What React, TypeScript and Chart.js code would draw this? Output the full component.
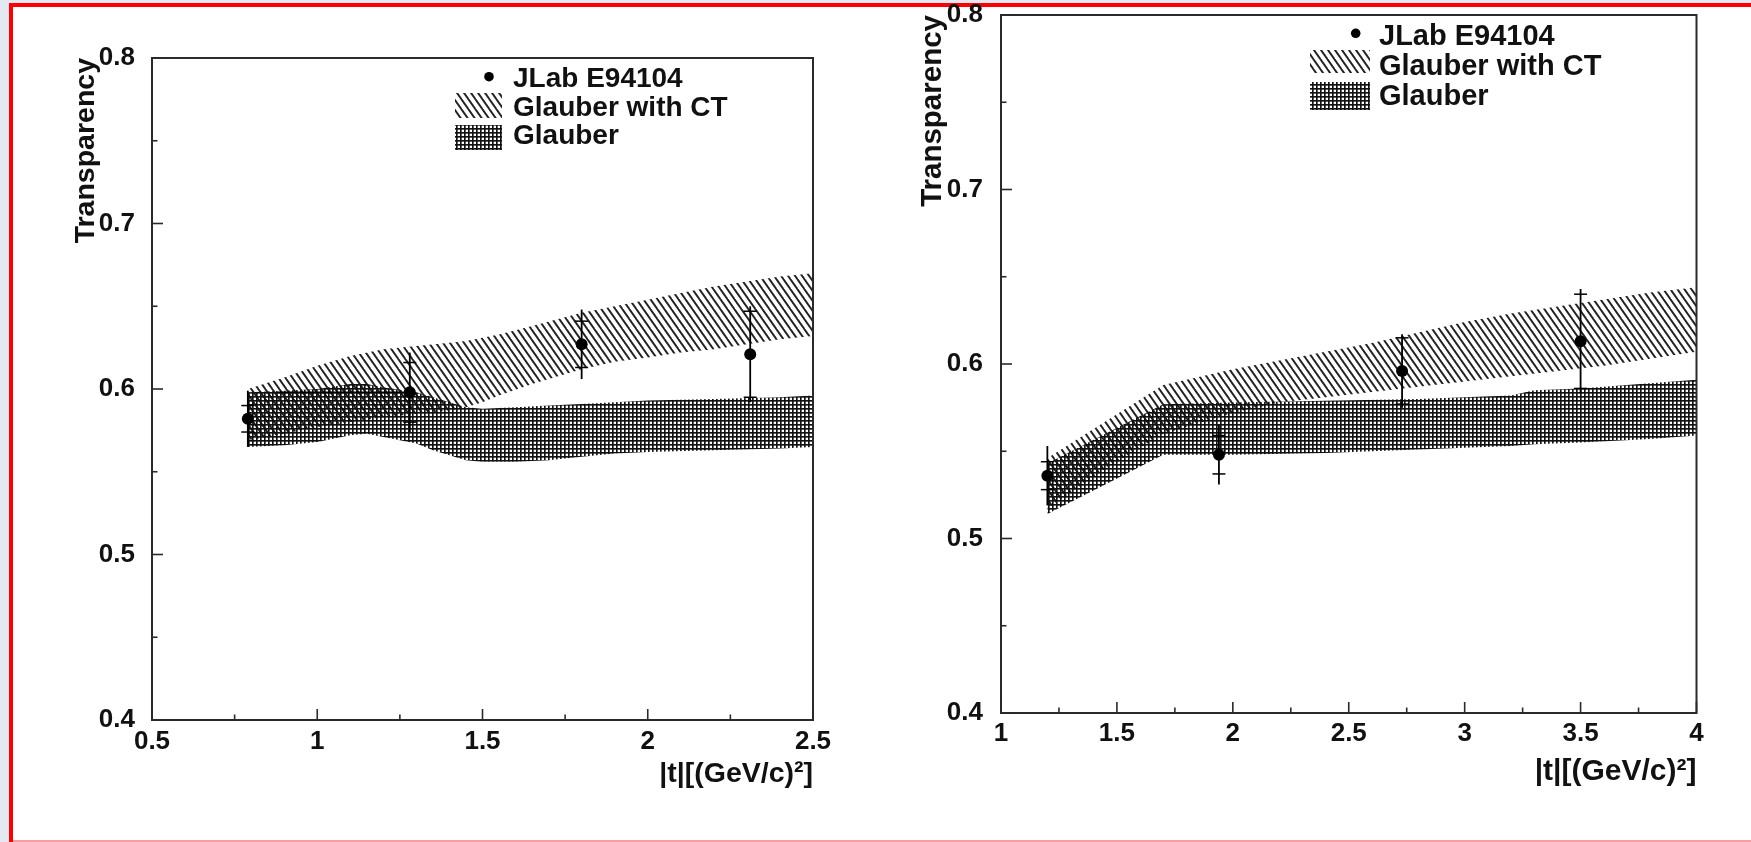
import React, { useEffect, useRef } from "react";
import { Chart, registerables } from "chart.js";

Chart.register(...registerables);

// ---------------- Text ----------------
const legendLabels = ["JLab E94104", "Glauber with CT", "Glauber"];
const yTitle = "Transparency";
const xTitle = "|t|[(GeV/c)²]";
const yTicks = [0.4, 0.5, 0.6, 0.7, 0.8];

// ---------------- Left panel ----------------
const leftXTicks = [0.5, 1, 1.5, 2, 2.5];
const leftPointsX = [0.79, 1.28, 1.8, 2.31];
const leftPointsY = [0.582, 0.598, 0.627, 0.621];
const leftErrTotal = [0.017, 0.024, 0.021, 0.029];
const leftErrStat = [0.008, 0.018, 0.014, 0.026];
const leftErrXLow = [0, 0.4, 0, 0];

const leftCtX = [0.79, 0.9, 1.0, 1.1, 1.2, 1.3, 1.4, 1.45, 1.5, 1.55, 1.65, 1.8, 1.9, 2.0, 2.1, 2.2, 2.3, 2.4, 2.5];
const leftCtLow = [0.569, 0.573, 0.577, 0.58, 0.583, 0.585, 0.587, 0.589, 0.592, 0.596, 0.603, 0.612, 0.6165, 0.619, 0.622, 0.624, 0.627, 0.63, 0.632];
const leftCtHigh = [0.6, 0.607, 0.614, 0.62, 0.624, 0.626, 0.628, 0.629, 0.631, 0.633, 0.638, 0.646, 0.65, 0.654, 0.658, 0.662, 0.665, 0.668, 0.67];

const leftGlX = [0.79, 0.9, 1.0, 1.1, 1.15, 1.2, 1.3, 1.35, 1.4, 1.45, 1.5, 1.6, 1.7, 1.8, 1.9, 2.0, 2.2, 2.4, 2.5];
const leftGlLow = [0.565, 0.566, 0.568, 0.572, 0.573, 0.571, 0.567, 0.563, 0.56, 0.557, 0.556, 0.556, 0.557, 0.559, 0.561, 0.562, 0.563, 0.564, 0.565];
const leftGlHigh = [0.598, 0.599, 0.6, 0.603, 0.603, 0.601, 0.598, 0.595, 0.592, 0.589, 0.588, 0.589, 0.59, 0.591, 0.592, 0.593, 0.594, 0.595, 0.596];

// ---------------- Right panel ----------------
const rightXTicks = [1, 1.5, 2, 2.5, 3, 3.5, 4];
const rightPointsX = [1.2, 1.94, 2.73, 3.5];
const rightPointsY = [0.536, 0.548, 0.596, 0.613];
const rightErrTotal = [0.017, 0.017, 0.021, 0.03];
const rightErrStat = [0.008, 0.011, 0.019, 0.027];
const rightErrXLow = [0, 0, 0, 0];

const rightCtX = [1.2, 1.45, 1.7, 2.0, 2.2, 2.4, 2.6, 2.8, 3.0, 3.2, 3.4, 3.6, 3.8, 4.0];
const rightCtLow = [0.517, 0.54, 0.56, 0.572, 0.578, 0.581, 0.584, 0.587, 0.59, 0.593, 0.596, 0.599, 0.603, 0.607];
const rightCtHigh = [0.546, 0.567, 0.588, 0.597, 0.602, 0.607, 0.612, 0.618, 0.624, 0.629, 0.633, 0.637, 0.641, 0.644];

const rightGlX = [1.2, 1.45, 1.7, 2.0, 2.4, 2.8, 3.0, 3.2, 3.3, 3.5, 3.8, 4.0];
const rightGlLow = [0.514, 0.531, 0.548, 0.548, 0.549, 0.551, 0.552, 0.553, 0.554, 0.555, 0.557, 0.559];
const rightGlHigh = [0.543, 0.56, 0.577, 0.578, 0.579, 0.58, 0.581, 0.582, 0.585, 0.586, 0.589, 0.591];

const FONT = "'Liberation Sans', Arial, Helvetica, sans-serif";

function makeHatch(ctx: CanvasRenderingContext2D): CanvasPattern {
  const c = document.createElement("canvas");
  c.width = 7;
  c.height = 10;
  const g = c.getContext("2d")!;
  g.strokeStyle = "#222";
  g.lineWidth = 1.9;
  for (const off of [-7, 0, 7]) {
    g.beginPath();
    g.moveTo(off - 0.7, -1);
    g.lineTo(off + 7.7, 11);
    g.stroke();
  }
  return ctx.createPattern(c, "repeat")!;
}

function makeGrid(ctx: CanvasRenderingContext2D): CanvasPattern {
  const c = document.createElement("canvas");
  c.width = 4;
  c.height = 4;
  const g = c.getContext("2d")!;
  g.fillStyle = "rgba(15,15,15,0.65)";
  g.fillRect(1, 0, 1, 4);
  g.fillRect(0, 1, 4, 1);
  g.fillStyle = "#111";
  g.fillRect(0, 0, 1, 4);
  g.fillRect(0, 0, 4, 1);
  return ctx.createPattern(c, "repeat")!;
}

type PanelSpec = {
  px: number[];
  py: number[];
  et: number[];
  es: number[];
  exl: number[];
  ctX: number[];
  ctLow: number[];
  ctHigh: number[];
  glX: number[];
  glLow: number[];
  glHigh: number[];
  xMin: number;
  xMax: number;
  xTicks: number[];
  yAxisW: number;
  xAxisH: number;
  padTop: number;
  padRight: number;
  yTitleSize: number;
  yTitlePad: number;
  xTitleSize: number;
  xTitlePad: number;
  yTickPad: number;
  xTickPad: number;
  legend: {
    size: number;
    dotX: number;
    dotY: number;
    sx: number;
    sw: number;
    ctY: number;
    ctH: number;
    glY: number;
    glH: number;
    tx: number;
    base: number[];
  };
};

function pts(xs: number[], ys: number[]) {
  return xs.map((x, i) => ({ x, y: ys[i] }));
}

function makePanel(canvas: HTMLCanvasElement, s: PanelSpec, id: string): Chart {
  const ctx = canvas.getContext("2d")!;
  const hatch = makeHatch(ctx);
  const grid = makeGrid(ctx);

  const plugin = {
    id,
    afterDatasetsDraw(chart: any) {
      const c: CanvasRenderingContext2D = chart.ctx;
      const xs = chart.scales.x;
      const ys = chart.scales.y;
      const ca = chart.chartArea;
      c.save();
      // error bars
      c.strokeStyle = "#000";
      c.lineCap = "butt";
      s.px.forEach((xv, i) => {
        const px = xs.getPixelForValue(xv);
        const y0 = ys.getPixelForValue(s.py[i]);
        const yt = ys.getPixelForValue(s.py[i] + s.et[i]);
        const yb = ys.getPixelForValue(s.py[i] - s.et[i]);
        c.lineWidth = 1.8;
        c.beginPath();
        c.moveTo(px, yt);
        c.lineTo(px, yb);
        c.stroke();
        c.lineWidth = 1.5;
        for (const sign of [1, -1]) {
          const yy = ys.getPixelForValue(s.py[i] + sign * s.es[i]);
          c.beginPath();
          c.moveTo(px - 6.5, yy);
          c.lineTo(px + 6.5, yy);
          c.stroke();
        }
        if (s.exl[i] > 0) {
          c.lineWidth = 1.8;
          c.beginPath();
          c.moveTo(xs.getPixelForValue(xv - s.exl[i]), y0);
          c.lineTo(px, y0);
          c.stroke();
        }
      });
      // frame
      c.strokeStyle = "#2a2a2a";
      c.lineWidth = 2;
      c.strokeRect(ca.left, ca.top, ca.right - ca.left, ca.bottom - ca.top);
      // tick marks (inside)
      c.lineWidth = 1.6;
      for (let v = s.xMin; v <= s.xMax + 1e-9; v += 0.25) {
        const p = xs.getPixelForValue(v);
        const major = s.xTicks.some((t) => Math.abs(t - v) < 1e-6);
        const len = major ? 11 : 5.5;
        c.beginPath();
        c.moveTo(p, ca.bottom);
        c.lineTo(p, ca.bottom - len);
        c.stroke();
      }
      for (let v = 0.4; v <= 0.8 + 1e-9; v += 0.05) {
        const p = ys.getPixelForValue(v);
        const major = yTicks.some((t) => Math.abs(t - v) < 1e-6);
        const len = major ? 11 : 5.5;
        c.beginPath();
        c.moveTo(ca.left, p);
        c.lineTo(ca.left + len, p);
        c.stroke();
      }
      // legend
      const L = s.legend;
      c.fillStyle = "#000";
      c.beginPath();
      c.arc(ca.left + L.dotX, ca.top + L.dotY, 4.8, 0, Math.PI * 2);
      c.fill();
      c.fillStyle = hatch;
      c.fillRect(ca.left + L.sx, ca.top + L.ctY, L.sw, L.ctH);
      c.fillStyle = grid;
      c.fillRect(ca.left + L.sx, ca.top + L.glY, L.sw, L.glH);
      c.fillStyle = "#111";
      c.font = `bold ${L.size}px ${FONT}`;
      c.textAlign = "left";
      c.textBaseline = "alphabetic";
      legendLabels.forEach((t, i) => {
        c.fillText(t, ca.left + L.tx, ca.top + L.base[i]);
      });
      c.restore();
    },
  };

  const hidden = "rgba(0,0,0,0)";
  const bandLine = {
    type: "line" as const,
    borderColor: hidden,
    borderWidth: 0,
    pointRadius: 0,
    tension: 0,
  };

  return new Chart(canvas, {
    type: "line",
    data: {
      datasets: [
        { ...bandLine, label: "ct-low", data: pts(s.ctX, s.ctLow), fill: false, order: 3 },
        { ...bandLine, label: "ct-high", data: pts(s.ctX, s.ctHigh), fill: "-1", backgroundColor: hatch, order: 3 },
        { ...bandLine, label: "gl-low", data: pts(s.glX, s.glLow), fill: false, order: 2 },
        { ...bandLine, label: "gl-high", data: pts(s.glX, s.glHigh), fill: "-1", backgroundColor: grid, order: 2 },
        {
          type: "line",
          label: legendLabels[0],
          data: pts(s.px, s.py),
          showLine: false,
          pointRadius: 6,
          pointBackgroundColor: "#000",
          pointBorderColor: "#000",
          pointBorderWidth: 0,
          order: 0,
        },
      ] as any,
    },
    plugins: [plugin as any],
    options: {
      animation: false,
      responsive: false,
      events: [],
      layout: { padding: { left: 0, top: s.padTop, right: s.padRight, bottom: 0 } },
      plugins: {
        legend: { display: false },
        tooltip: { enabled: false },
        title: { display: false },
      },
      scales: {
        x: {
          type: "linear",
          min: s.xMin,
          max: s.xMax,
          afterBuildTicks: (axis: any) => {
            axis.ticks = s.xTicks.map((v) => ({ value: v }));
          },
          afterFit: (axis: any) => {
            axis.height = s.xAxisH;
            axis.paddingLeft = 0;
            axis.paddingRight = 0;
          },
          grid: { display: false, drawTicks: false },
          border: { display: false },
          ticks: {
            autoSkip: false,
            maxRotation: 0,
            minRotation: 0,
            padding: s.xTickPad,
            color: "#111",
            font: { family: FONT, size: 26, weight: "bold" },
            callback: (v: any) => String(+Number(v).toFixed(3)),
          },
          title: {
            display: true,
            text: xTitle,
            align: "end",
            color: "#111",
            font: { family: FONT, size: s.xTitleSize, weight: "bold" },
            padding: { top: 0, bottom: s.xTitlePad },
          },
        },
        y: {
          type: "linear",
          min: 0.4,
          max: 0.8,
          afterBuildTicks: (axis: any) => {
            axis.ticks = yTicks.map((v) => ({ value: v }));
          },
          afterFit: (axis: any) => {
            axis.width = s.yAxisW;
            axis.paddingTop = 0;
            axis.paddingBottom = 0;
          },
          grid: { display: false, drawTicks: false },
          border: { display: false },
          ticks: {
            autoSkip: false,
            padding: s.yTickPad,
            color: "#111",
            font: { family: FONT, size: 26, weight: "bold" },
            callback: (v: any) => String(+Number(v).toFixed(3)),
          },
          title: {
            display: true,
            text: yTitle,
            align: "end",
            color: "#111",
            font: { family: FONT, size: s.yTitleSize, weight: "bold" },
            padding: { top: s.yTitlePad, bottom: 0 },
          },
        },
      },
    } as any,
  });
}

const leftSpec: PanelSpec = {
  px: leftPointsX,
  py: leftPointsY,
  et: leftErrTotal,
  es: leftErrStat,
  exl: leftErrXLow,
  ctX: leftCtX,
  ctLow: leftCtLow,
  ctHigh: leftCtHigh,
  glX: leftGlX,
  glLow: leftGlLow,
  glHigh: leftGlHigh,
  xMin: 0.5,
  xMax: 2.5,
  xTicks: leftXTicks,
  yAxisW: 152,
  xAxisH: 122,
  padTop: 58,
  padRight: 67,
  yTitleSize: 28.5,
  yTitlePad: 69,
  xTitleSize: 28.5,
  xTitlePad: 51,
  yTickPad: 17,
  xTickPad: 6,
  legend: {
    size: 28,
    dotX: 337,
    dotY: 18.7,
    sx: 303,
    sw: 47,
    ctY: 35,
    ctH: 25,
    glY: 67,
    glH: 25,
    tx: 361,
    base: [28.5, 57.5, 86],
  },
};

const rightSpec: PanelSpec = {
  px: rightPointsX,
  py: rightPointsY,
  et: rightErrTotal,
  es: rightErrStat,
  exl: rightErrXLow,
  ctX: rightCtX,
  ctLow: rightCtLow,
  ctHigh: rightCtHigh,
  glX: rightGlX,
  glLow: rightGlLow,
  glHigh: rightGlHigh,
  xMin: 1,
  xMax: 4,
  xTicks: rightXTicks,
  yAxisW: 121,
  xAxisH: 129,
  padTop: 15,
  padRight: 54.5,
  yTitleSize: 29.5,
  yTitlePad: 35,
  xTitleSize: 30,
  xTitlePad: 52,
  yTickPad: 18,
  xTickPad: 5,
  legend: {
    size: 29,
    dotX: 354.7,
    dotY: 18.3,
    sx: 309,
    sw: 60,
    ctY: 35,
    ctH: 23,
    glY: 67,
    glH: 28,
    tx: 378,
    base: [29.5, 59.5, 89.5],
  },
};

export default function App() {
  const leftRef = useRef<HTMLCanvasElement>(null);
  const rightRef = useRef<HTMLCanvasElement>(null);

  useEffect(() => {
    const charts: Chart[] = [];
    if (leftRef.current) charts.push(makePanel(leftRef.current, leftSpec, "rootLeft"));
    if (rightRef.current) charts.push(makePanel(rightRef.current, rightSpec, "rootRight"));
    return () => charts.forEach((c) => c.destroy());
  }, []);

  const abs = (l: number, t: number, w: number, h: number, bg: string): React.CSSProperties => ({
    position: "absolute",
    left: l,
    top: t,
    width: w,
    height: h,
    background: bg,
  });

  return (
    <div style={{ position: "absolute", left: 0, top: 0, width: 1751, height: 842, background: "#fff", overflow: "hidden" }}>
      <div style={abs(0, 0, 9, 842, "#e3e8f3")} />
      <div style={abs(9, 0, 1742, 3, "#e3e8f3")} />
      <div style={abs(9, 3, 4, 839, "#ff0000")} />
      <div style={abs(9, 3, 1742, 4, "#ff0000")} />
      <div style={abs(13, 840, 1738, 2, "#f4a0a0")} />
      <canvas
        ref={leftRef}
        width={880}
        height={842}
        style={{ position: "absolute", left: 0, top: 0, width: 880, height: 842 }}
      />
      <canvas
        ref={rightRef}
        width={871}
        height={842}
        style={{ position: "absolute", left: 880, top: 0, width: 871, height: 842 }}
      />
    </div>
  );
}
